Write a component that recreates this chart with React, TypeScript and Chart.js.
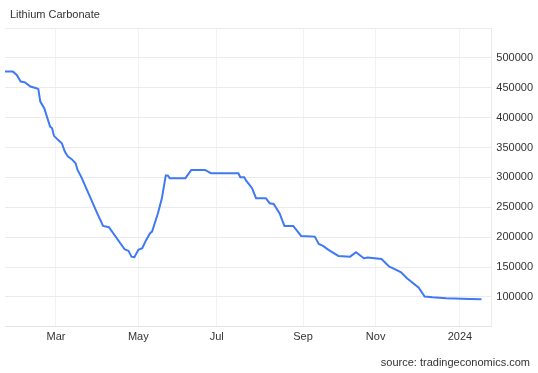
import React, { useEffect, useRef } from "react";
import { Chart, registerables } from "chart.js";

Chart.register(...registerables);

// x = trading-day index (weekends and exchange holidays are not on the axis)
const tradingDay = [
  0, 4, 6, 8, 10, 13, 16, 17, 18, 20, 23, 24, 25, 27, 29, 30.5, 32, 34, 36, 37,
  39, 47, 50, 53, 61, 63, 64.5, 66, 68, 70, 72, 74, 75, 78, 80, 82, 83, 84, 92,
  95, 102, 105, 119, 120, 122, 123, 126, 128, 133, 135, 137, 140, 142.5, 147,
  151, 158, 160, 162, 165, 170, 176, 179, 183, 185, 192, 196, 198.5, 202, 205,
  211, 214, 218, 225, 237, 243,
];
const price = [
  477000, 477000, 471500, 460300, 459300, 452000, 449300, 447600, 426900, 415800,
  385000, 382300, 369500, 362800, 357200, 343200, 335100, 330500, 323800, 312500,
  300000, 240100, 218800, 216700, 179800, 177000, 167400, 166400, 178700, 181500,
  195400, 206600, 209300, 240100, 265200, 303300, 303300, 298700, 298700, 312500,
  312500, 307000, 307000, 300300, 300300, 294600, 281900, 265200, 265200, 256800,
  255600, 240100, 218800, 218800, 202100, 200900, 188700, 185900, 178700, 168600,
  167400, 174800, 164800, 165800, 163600, 150700, 146900, 141300, 131300, 115600,
  100800, 99500, 97800, 96700, 96200,
];
const monthTicks = [26, 68, 108, 152, 189, 232];
const monthLabels = ["Mar", "May", "Jul", "Sep", "Nov", "2024"];
const yTicksShown = [100000, 150000, 200000, 250000, 300000, 350000, 400000, 450000, 500000];

const FONT = '"Liberation Sans", Arial, sans-serif';

export default function App() {
  const canvasRef = useRef<HTMLCanvasElement | null>(null);

  useEffect(() => {
    document.body.style.margin = "0";
    const ctx = canvasRef.current;
    if (!ctx) return;
    Chart.defaults.font.family = FONT;
    const chart = new Chart(ctx, {
      type: "line",
      data: {
        datasets: [
          {
            label: "Lithium Carbonate",
            data: tradingDay.map((x, i) => ({ x, y: price[i] })),
            borderColor: "#4079f5",
            borderWidth: 2,
            pointRadius: 0,
            tension: 0,
            fill: false,
          },
        ],
      },
      options: {
        animation: false,
        responsive: true,
        maintainAspectRatio: false,
        layout: { padding: { left: 5, right: 0, top: 28, bottom: 25 } },
        plugins: {
          legend: { display: false },
          tooltip: { enabled: false },
          title: { display: false },
        },
        scales: {
          x: {
            type: "linear",
            min: 0,
            max: 248,
            afterBuildTicks: (axis: any) => {
              axis.ticks = monthTicks.map((v) => ({ value: v }));
            },
            ticks: {
              autoSkip: false,
              maxRotation: 0,
              padding: 4,
              color: "#333333",
              font: { size: 11, family: FONT },
              callback: (value: any) => {
                const i = monthTicks.indexOf(Number(value));
                return i >= 0 ? monthLabels[i] : "";
              },
            },
            grid: { color: "#eef3f3", drawTicks: false },
            border: { display: true, color: "#e3e3e3" },
          },
          y: {
            position: "right",
            min: 50000,
            max: 550000,
            ticks: {
              stepSize: 50000,
              padding: 5,
              color: "#333333",
              font: { size: 11, family: FONT },
              callback: (value: any) =>
                yTicksShown.includes(Number(value)) ? String(value) : "",
            },
            grid: { color: "#ebebeb", drawTicks: false },
            border: { display: true, color: "#ebebeb" },
          },
        },
      },
    });
    return () => chart.destroy();
  }, []);

  return (
    <div style={{ position: "relative", width: 538, height: 373, background: "#fff" }}>
      <canvas ref={canvasRef} />
      <div
        style={{
          position: "absolute",
          left: 10,
          top: 8,
          fontFamily: FONT,
          fontSize: 11,
          lineHeight: "13px",
          color: "#333333",
        }}
      >
        Lithium Carbonate
      </div>
      <div
        style={{
          position: "absolute",
          right: 8,
          top: 356,
          fontFamily: FONT,
          fontSize: 11,
          lineHeight: "13px",
          color: "#333333",
        }}
      >
        source: tradingeconomics.com
      </div>
    </div>
  );
}
